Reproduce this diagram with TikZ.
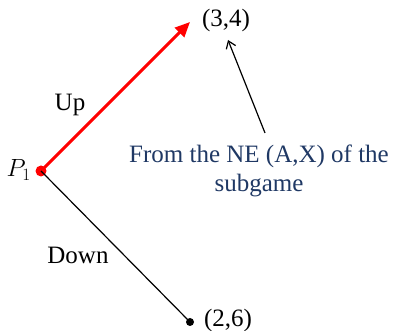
\documentclass[tikz,border=0pt]{standalone}
\usepackage{fontspec}
\setmainfont{Liberation Serif}
\usetikzlibrary{arrows.meta}
\definecolor{navy}{RGB}{31,56,100}
\tikzset{
  lbl/.style={font=\fontsize{25}{29}\selectfont, inner sep=0pt},
  dot/.style={circle, fill, inner sep=0pt},
}
\begin{document}
\begin{tikzpicture}[x=1pt,y=1pt]
\useasboundingbox (0,0) rectangle (393,331);
\node[dot, red, minimum size=11pt] (p1) at (41,160) {};
\node[lbl, anchor=east] (p1l) at (31,161) {$P_1$};
\coordinate (top) at (190,309);
\node[dot, minimum size=8pt] (bot) at (190,9) {};
\node[lbl] (u) at (226,311) {(3,4)};
\node[lbl] (d) at (228,11) {(2,6)};
\node[lbl] (up) at (70,226) {Up};
\node[lbl] (down) at (78,76) {Down};
\node[lbl, navy, align=center] (ne) at (259,160) {From the NE (A,X) of the\\subgame};
\draw[red, line width=3pt, -{Triangle[length=15pt,width=13pt]}] (p1.center) -- (top);
\draw[line width=1.2pt] (p1.center) -- (bot.center);
\coordinate (ps) at (265,198);
\coordinate (pe) at (228,291);
\draw[line width=1.2pt, -{Straight Barb[length=7pt,width=10pt]}] (ps) -- (pe);
\end{tikzpicture}
\end{document}
